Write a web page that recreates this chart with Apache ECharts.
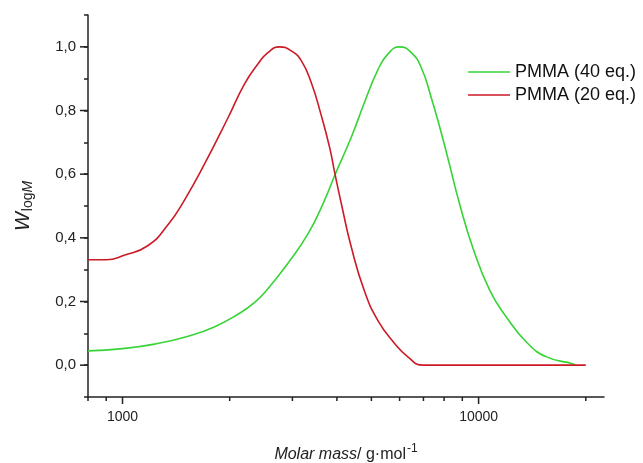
<!DOCTYPE html>
<html>
<head>
<meta charset="utf-8">
<script src="https://cdn.jsdelivr.net/npm/echarts@6/dist/echarts.min.js"></script>
<style>
  html, body { margin: 0; padding: 0; background: #fff; }
  #chart { width: 643px; height: 463px; }
</style>
</head>
<body>
<div id="chart"></div>
<script>
// PMMA (40 eq.) - green curve
const mass40 = [800, 1000, 1230, 1530, 1810, 2110, 2350, 2560, 2910, 3320, 3690, 3940, 4390, 4780, 5210, 5560, 6000, 6470, 6900, 7360, 7850, 8200, 8860, 9660, 10760, 11990, 13640, 15520, 18440, 18650]
const wlog40 = [0.045, 0.052, 0.066, 0.091, 0.12, 0.16, 0.197, 0.24, 0.319, 0.413, 0.517, 0.595, 0.716, 0.825, 0.927, 0.977, 1.0, 0.982, 0.935, 0.841, 0.731, 0.65, 0.503, 0.365, 0.234, 0.15, 0.072, 0.026, 0.004, 0.0]

// PMMA (20 eq.) - red curve
const mass20 = [800, 900, 1010, 1180, 1340, 1490, 1700, 1980, 2200, 2400, 2560, 2760, 2980, 3180, 3390, 3610, 3820, 3940, 4130, 4390, 4780, 5210, 5810, 6330, 6980, 20000]
const wlog20 = [0.331, 0.331, 0.345, 0.376, 0.44, 0.517, 0.632, 0.778, 0.883, 0.946, 0.982, 1.0, 0.987, 0.956, 0.887, 0.787, 0.682, 0.607, 0.5, 0.371, 0.233, 0.141, 0.068, 0.026, 0.0, 0.0]

// ticks
const xMajorTicks = [1000, 10000]
const xMinorTicks = [800, 900, 2000, 3000, 4000, 5000, 6000, 7000, 8000, 9000, 20000]
const yMajorTicks = [0, 0.2, 0.4, 0.6, 0.8, 1.0]

const xMin = 800
const xMax = 22500
const yMin = -0.1
const yMax = 1.1
const axisColor = '#222'
const font = 'Liberation Sans, Arial, sans-serif'

const pairs = (xs, ys) => xs.map((x, i) => [x, ys[i]])

// extra tick marks drawn through the axes' own scales
function tickSeries(data, dir, len) {
  return {
    type: 'custom',
    silent: true,
    clip: false,
    z: 5,
    renderItem(params, api) {
      const p = api.coord([api.value(0), api.value(1)])
      const shape = dir === 'x'
        ? { x1: p[0], y1: p[1], x2: p[0], y2: p[1] + len }
        : { x1: p[0], y1: p[1], x2: p[0] - len, y2: p[1] }
      return { type: 'line', shape: shape, style: { stroke: axisColor, lineWidth: 1.5 } }
    },
    data: data
  }
}

const chart = echarts.init(document.getElementById('chart'))
chart.setOption({
  animation: false,
  backgroundColor: '#fff',
  textStyle: { fontFamily: font },
  grid: { left: 88, top: 15, width: 516, height: 382, outerBoundsMode: 'none', containLabel: false },
  legend: {
    orient: 'vertical',
    left: 468,
    top: 63,
    padding: 0,
    itemGap: 5,
    itemWidth: 42,
    itemHeight: 1.5,
    icon: 'rect',
    textStyle: { fontSize: 18, color: '#111', fontFamily: font },
    data: ['PMMA (40 eq.)', 'PMMA (20 eq.)']
  },
  xAxis: {
    type: 'log',
    logBase: 10,
    min: xMin,
    max: xMax,
    splitLine: { show: false },
    axisLine: { onZero: false, lineStyle: { color: axisColor, width: 1.5 } },
    axisTick: { show: false },
    axisLabel: {
      showMinLabel: false,
      showMaxLabel: false,
      margin: 13,
      fontSize: 14,
      color: '#222',
      formatter: v => {
        const r = Math.round(v)
        return xMajorTicks.indexOf(r) >= 0 ? String(r) : ''
      }
    },
    name: '{i|Molar mass}{n|/ g·mol}{sup|-1}',
    nameLocation: 'middle',
    nameGap: 46,
    nameTextStyle: {
      rich: {
        i: { fontSize: 16, fontStyle: 'italic', color: '#222', fontFamily: font },
        n: { fontSize: 16, color: '#222', fontFamily: font },
        sup: { fontSize: 12, color: '#222', fontFamily: font, padding: [0, 0, 12, 1] }
      }
    }
  },
  yAxis: {
    type: 'value',
    min: yMin,
    max: yMax,
    interval: 0.1,
    splitLine: { show: false },
    axisLine: { show: true, lineStyle: { color: axisColor, width: 1.5 } },
    axisTick: { show: true, length: 4, lineStyle: { color: axisColor, width: 1.5 } },
    axisLabel: {
      margin: 12,
      fontSize: 15,
      color: '#222',
      formatter: v => {
        const k = Math.round(v * 10)
        return (k >= 0 && k % 2 === 0) ? (k / 10).toFixed(1).replace('.', ',') : ''
      }
    },
    name: '{w|W}{s|log}{m|M}',
    nameLocation: 'middle',
    nameGap: 53,
    nameTextStyle: {
      rich: {
        w: { fontSize: 20, fontStyle: 'italic', color: '#222', fontFamily: font },
        s: { fontSize: 14, color: '#222', fontFamily: font, padding: [9, 0, 0, 1] },
        m: { fontSize: 14, fontStyle: 'italic', color: '#222', fontFamily: font, padding: [9, 0, 0, 0] }
      }
    }
  },
  series: [
    {
      name: 'PMMA (40 eq.)',
      type: 'line',
      data: pairs(mass40, wlog40),
      smooth: 0.5,
      showSymbol: false,
      color: '#36d436',
      lineStyle: { color: '#36d436', width: 1.6 }
    },
    {
      name: 'PMMA (20 eq.)',
      type: 'line',
      data: pairs(mass20, wlog20),
      smooth: 0.5,
      showSymbol: false,
      color: '#cc1a26',
      lineStyle: { color: '#cc1a26', width: 1.6 }
    },
    tickSeries(xMajorTicks.map(v => [v, yMin]), 'x', 7),
    tickSeries(xMinorTicks.map(v => [v, yMin]), 'x', 4),
    tickSeries(yMajorTicks.map(v => [xMin, v]), 'y', 8)
  ]
})
</script>
</body>
</html>
